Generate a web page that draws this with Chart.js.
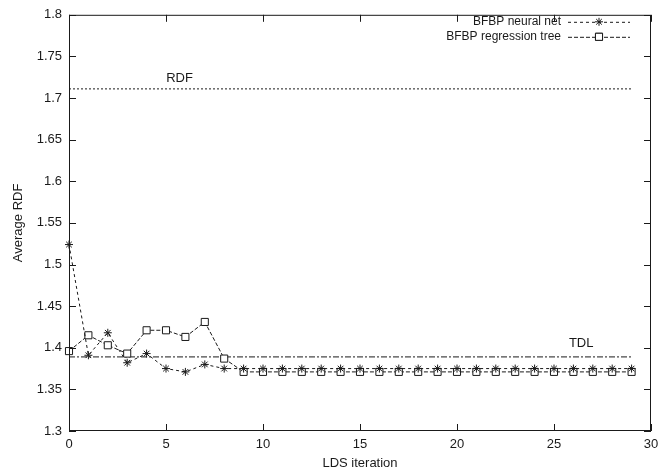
<!DOCTYPE html>
<html>
<head>
<meta charset="utf-8">
<script src="https://cdn.jsdelivr.net/npm/chart.js@4/dist/chart.umd.min.js"></script>
<style>
  html, body { margin: 0; padding: 0; background: #fff; }
  #wrap { width: 658px; height: 468px; }
</style>
</head>
<body>
<div id="wrap"><canvas id="rdfChart" width="658" height="468"></canvas></div>
<script>
// iterations 0..29
const iterations = [0,1,2,3,4,5,6,7,8,9,10,11,12,13,14,15,16,17,18,19,20,21,22,23,24,25,26,27,28,29];
const neuralNet = [1.524,1.391,1.418,1.382,1.393,1.375,1.371,1.380,1.375,1.375,1.375,1.375,1.375,1.375,1.375,
                   1.375,1.375,1.375,1.375,1.375,1.375,1.375,1.375,1.375,1.375,1.375,1.375,1.375,1.375,1.375];
const regressionTree = [1.396,1.415,1.403,1.393,1.421,1.421,1.413,1.431,1.387,1.371,1.371,1.371,1.371,1.371,1.371,
                        1.371,1.371,1.371,1.371,1.371,1.371,1.371,1.371,1.371,1.371,1.371,1.371,1.371,1.371,1.371];
const refLineX = [0, 29];
const rdfLevel = 1.711;
const tdlLevel = 1.389;
const xTicks = [0, 5, 10, 15, 20, 25, 30];
const yTicks = [1.3, 1.35, 1.4, 1.45, 1.5, 1.55, 1.6, 1.65, 1.7, 1.75, 1.8];

const FONT = '"Liberation Sans", Arial, sans-serif';
const INK = '#1a1a1a';

function pts(xs, ys) {
    return xs.map((x, i) => ({ x: x, y: ys[i] }));
}

// frame, inward ticks, line labels and the legend
const decorPlugin = {
    id: 'decor',
    afterDraw(chart) {
        const ctx = chart.ctx;
        const a = chart.chartArea;
        const xs = chart.scales.x, ys = chart.scales.y;
        ctx.save();
        ctx.strokeStyle = INK;
        ctx.lineWidth = 1;
        ctx.setLineDash([]);
        ctx.strokeRect(a.left + 0.5, a.top + 0.5, a.right - a.left - 1, a.bottom - a.top - 1);

        ctx.beginPath();
        yTicks.forEach(v => {
            const py = Math.round(ys.getPixelForValue(v)) + 0.5;
            ctx.moveTo(a.left, py); ctx.lineTo(a.left + 7, py);
            ctx.moveTo(a.right, py); ctx.lineTo(a.right - 7, py);
        });
        xTicks.forEach(v => {
            const px = Math.round(xs.getPixelForValue(v)) + 0.5;
            ctx.moveTo(px, a.bottom); ctx.lineTo(px, a.bottom - 7);
            ctx.moveTo(px, a.top); ctx.lineTo(px, a.top + 7);
        });
        ctx.stroke();

        // labels of the two reference lines
        ctx.fillStyle = INK;
        ctx.font = '13px ' + FONT;
        ctx.textAlign = 'center';
        ctx.textBaseline = 'middle';
        ctx.fillText('RDF', xs.getPixelForValue(5.7), ys.getPixelForValue(1.723));
        ctx.fillText('TDL', xs.getPixelForValue(26.4), ys.getPixelForValue(1.405));

        // legend
        ctx.font = '12px ' + FONT;
        const items = [
            { text: 'BFBP neural net', ds: chart.data.datasets[0] },
            { text: 'BFBP regression tree', ds: chart.data.datasets[1] }
        ];
        const textRight = a.right - 90;
        const lx0 = a.right - 83, lx1 = a.right - 21;
        items.forEach((it, i) => {
            const y = a.top + 7 + i * 15;
            ctx.textAlign = 'right';
            ctx.fillText(it.text, textRight, y);
            ctx.beginPath();
            ctx.setLineDash(it.ds.borderDash);
            ctx.moveTo(lx0, y + 0.5); ctx.lineTo(lx1, y + 0.5);
            ctx.stroke();
            ctx.setLineDash([]);
            Chart.helpers.drawPoint(ctx, {
                pointStyle: it.ds.pointStyle,
                radius: it.ds.pointRadius,
                borderWidth: 1
            }, (lx0 + lx1) / 2, y);
            if (it.ds.pointStyle === 'rect') {
                ctx.fillStyle = '#fff';
                ctx.fill();
                ctx.stroke();
                ctx.fillStyle = INK;
            }
        });
        ctx.restore();
    }
};

new Chart(document.getElementById('rdfChart'), {
    type: 'line',
    data: {
        datasets: [
            {
                label: 'BFBP neural net',
                data: pts(iterations, neuralNet),
                borderColor: INK,
                backgroundColor: INK,
                borderWidth: 1,
                borderDash: [3, 3],
                pointStyle: 'star',
                pointRadius: 4,
                pointBorderWidth: 1,
                tension: 0,
                clip: false
            },
            {
                label: 'BFBP regression tree',
                data: pts(iterations, regressionTree),
                borderColor: INK,
                backgroundColor: '#fff',
                borderWidth: 1,
                borderDash: [4, 2],
                pointStyle: 'rect',
                pointRadius: 5,
                pointBorderWidth: 1,
                tension: 0,
                clip: false
            },
            {
                label: 'RDF',
                data: pts(refLineX, refLineX.map(() => rdfLevel)),
                borderColor: INK,
                borderWidth: 1,
                borderDash: [2, 2],
                pointRadius: 0
            },
            {
                label: 'TDL',
                data: pts(refLineX, refLineX.map(() => tdlLevel)),
                borderColor: INK,
                borderWidth: 1,
                borderDash: [6, 2, 2, 2],
                pointRadius: 0
            }
        ]
    },
    options: {
        responsive: false,
        animation: false,
        layout: { padding: { left: 0, right: 0, top: 14, bottom: 0 } },
        plugins: {
            legend: { display: false },
            tooltip: { enabled: false }
        },
        scales: {
            x: {
                type: 'linear',
                min: 0,
                max: 30,
                afterBuildTicks(scale) { scale.ticks = xTicks.map(v => ({ value: v })); },
                afterFit(scale) {
                    scale.height = 37;
                    scale.paddingRight = 7;  // keep the plot frame near the right edge
                },
                grid: { display: false, drawTicks: false },
                border: { display: false },
                ticks: {
                    color: INK,
                    padding: 6,
                    font: { family: FONT, size: 13 },
                    maxRotation: 0
                },
                title: {
                    display: true,
                    text: 'LDS iteration',
                    color: INK,
                    font: { family: FONT, size: 13 },
                    padding: { top: 5, bottom: -3 }
                }
            },
            y: {
                min: 1.3,
                max: 1.8,
                afterBuildTicks(scale) { scale.ticks = yTicks.map(v => ({ value: v })); },
                afterFit(scale) { scale.width = 69; },
                grid: { display: false, drawTicks: false },
                border: { display: false },
                ticks: {
                    color: INK,
                    padding: 7,
                    font: { family: FONT, size: 13 },
                    callback: v => String(Number(v.toFixed(2)))
                },
                title: {
                    display: true,
                    text: 'Average RDF',
                    color: INK,
                    font: { family: FONT, size: 13 },
                    padding: { top: 11, bottom: 0 }
                }
            }
        }
    },
    plugins: [decorPlugin]
});
</script>
</body>
</html>
